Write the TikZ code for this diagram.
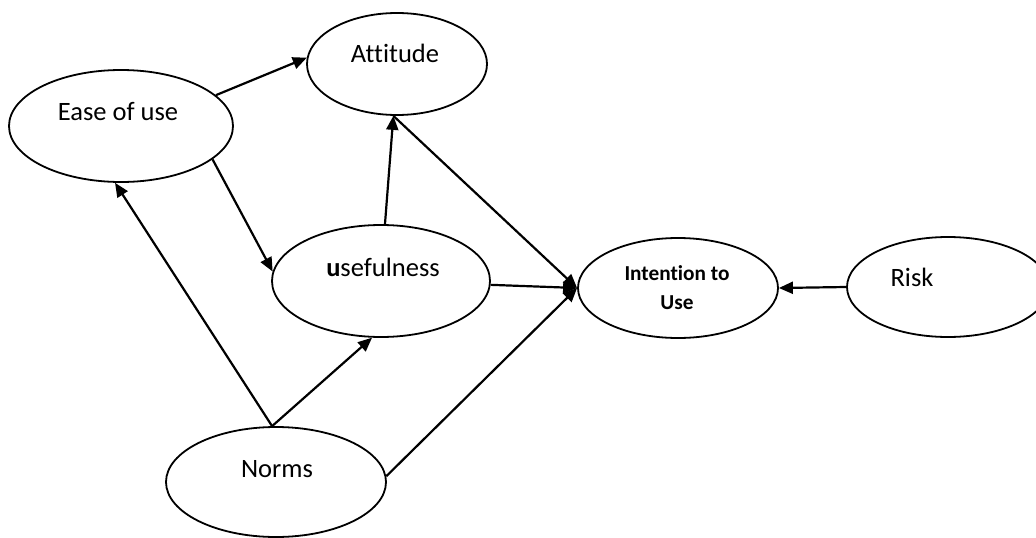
\documentclass[tikz,border=0pt]{standalone}
\usepackage{fontspec}
\setmainfont{Carlito}[Ligatures={NoCommon}]
\usetikzlibrary{shapes.geometric,arrows.meta}
\begin{document}
\begin{tikzpicture}[x=1pt,y=-1pt,
  ell/.style={draw, ellipse, line width=1.8pt, inner sep=0pt},
  lbl/.style={font=\fontsize{26.5}{31}\selectfont, inner sep=0pt},
  conn/.style={line width=2.2pt, -{Triangle[length=14pt,width=12pt]}}]
\useasboundingbox (0,0) rectangle (1036,538);
% ellipses
\node[ell, minimum width=224pt, minimum height=112pt] (ease) at (121,126) {};
\node[ell, minimum width=180pt, minimum height=102pt] (att) at (397,64) {};
\node[ell, minimum width=218pt, minimum height=112pt] (use) at (381,281) {};
\node[ell, minimum width=200pt, minimum height=100pt] (int) at (678,288) {};
\node[ell, minimum width=202pt, minimum height=100pt] (risk) at (948,287) {};
\node[ell, minimum width=220pt, minimum height=110pt] (norms) at (276,482) {};
% texts
\node[lbl] (easet) at (118,112) {Ease of use};
\node[lbl] (attt) at (395,53) {Attitude};
\node[lbl] (uset) at (383,267) {{\bfseries u}sefulness};
\node[lbl] (riskt) at (912,277) {Risk};
\node[lbl] (normst) at (277,469) {Norms};
\node[inner sep=0pt, align=center, font=\bfseries\fontsize{21.3}{29}\selectfont] (intt) at (677,288) {Intention to\\Use};
% connectors
\draw[conn] (ease.18) -- (att.176);
\draw[conn] (ease.-20) -- (use.175);
\draw[conn] (use.86) -- (att.-94.5);
\draw[conn] (att.-94.5) -- (int.180);
\draw[conn] (use.-2) -- (int.180);
\draw[conn] (norms.94) -- (ease.-96);
\draw[conn] (norms.94) -- (use.-99);
\draw[conn] (norms.3) -- (int.180);
\draw[conn] (risk.180) -- (int.0);
\end{tikzpicture}
\end{document}
